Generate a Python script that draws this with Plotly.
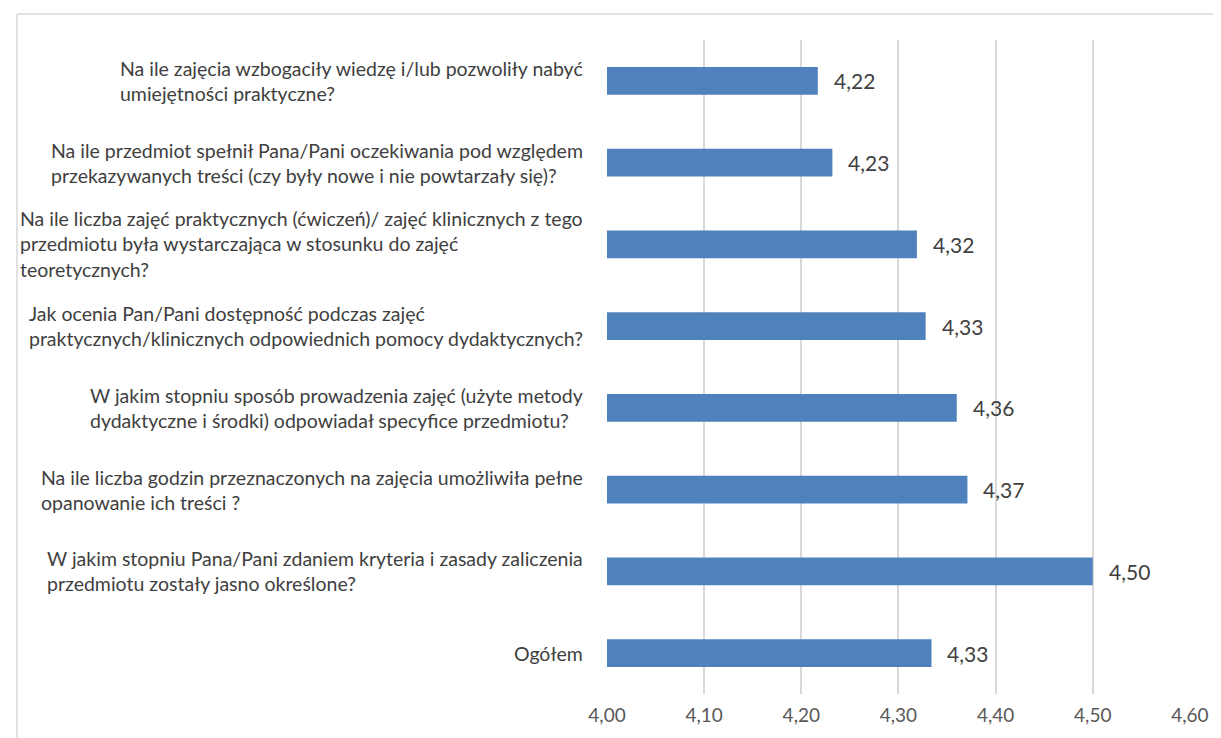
import plotly.graph_objects as go

C_BAR = "#4F81BD"
C_GRID = "#D9D9D9"
C_TEXT = "#404040"
C_TICK = "#595959"
FONT = "Lato"

questions = [
    "Na ile zajęcia wzbogaciły wiedzę i/lub pozwoliły nabyć<br>umiejętności praktyczne?",
    "Na ile przedmiot spełnił Pana/Pani oczekiwania pod względem<br>przekazywanych treści (czy były nowe i nie powtarzały się)?",
    "Na ile liczba zajęć praktycznych (ćwiczeń)/ zajęć klinicznych z tego<br>przedmiotu była wystarczająca w stosunku do zajęć<br>teoretycznych?",
    "Jak ocenia Pan/Pani dostępność podczas zajęć<br>praktycznych/klinicznych odpowiednich pomocy dydaktycznych?",
    "W jakim stopniu sposób prowadzenia zajęć (użyte metody<br>dydaktyczne i środki) odpowiadał specyfice przedmiotu?",
    "Na ile liczba godzin przeznaczonych na zajęcia umożliwiła pełne<br>opanowanie ich treści ?",
    "W jakim stopniu Pana/Pani zdaniem kryteria i zasady zaliczenia<br>przedmiotu zostały jasno określone?",
    "Ogółem",
]
scores = [4.217, 4.232, 4.319, 4.328, 4.360, 4.371, 4.500, 4.334]
score_labels = ["4,22", "4,23", "4,32", "4,33", "4,36", "4,37", "4,50", "4,33"]
tick_vals = [4.0, 4.1, 4.2, 4.3, 4.4, 4.5, 4.6]
tick_text = ["4,00", "4,10", "4,20", "4,30", "4,40", "4,50", "4,60"]

keys = [f"q{i}" for i in range(len(questions))]

fig = go.Figure(go.Bar(x=scores, y=keys, orientation="h", marker_color=C_BAR,
                       marker_line_width=0, width=0.34, hoverinfo="skip"))

anns = []
for k, q in zip(keys, questions):
    anns.append(dict(x=0, xref="paper", y=k, yref="y", text=q, showarrow=False,
                     xanchor="right", align="left", xshift=-22,
                     font=dict(family=FONT, size=19.5, color=C_TEXT)))
for k, v, t in zip(keys, scores, score_labels):
    anns.append(dict(x=v, xref="x", y=k, yref="y", text=t, showarrow=False,
                     xanchor="left", xshift=14,
                     font=dict(family=FONT, size=21, color=C_TEXT)))

# page body adds ~8px offset at left/top, so figure is 8px smaller and margins compensate
fig.update_layout(
    width=1213, height=730, paper_bgcolor="white", plot_bgcolor="white",
    margin=dict(l=599, r=23, t=32, b=44), showlegend=False,
    font=dict(family=FONT, color=C_TICK, size=19),
    annotations=anns,
    xaxis=dict(range=[4.0, 4.6001], tickvals=tick_vals, ticktext=tick_text,
               showgrid=True, gridcolor=C_GRID, gridwidth=1.5, zeroline=False,
               showline=False, ticks="", ticklabelstandoff=8, ticklabeloverflow="allow",
               tickfont=dict(size=19, color=C_TICK)),
    yaxis=dict(autorange="reversed", showticklabels=False, showgrid=False,
               zeroline=False, showline=False),
    shapes=[
        dict(type="line", xref="paper", yref="paper", x0=-1.012, x1=1.1, y0=1.0398, y1=1.0398,
             line=dict(color=C_GRID, width=1.5)),
        dict(type="line", xref="paper", yref="paper", x0=-1.012, x1=-1.012, y0=-0.1, y1=1.0398,
             line=dict(color=C_GRID, width=1.5)),
    ],
)

fig.write_html("out.html")
